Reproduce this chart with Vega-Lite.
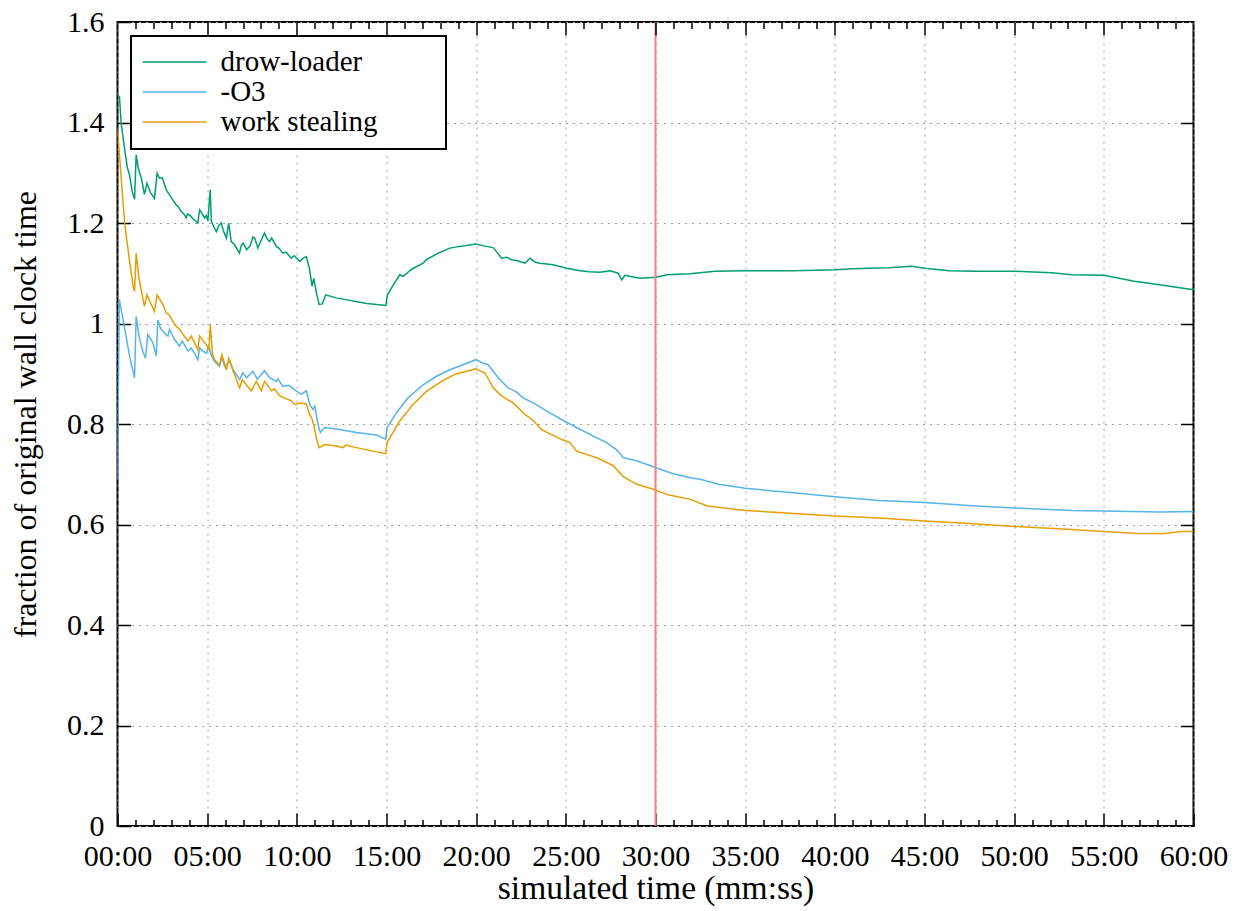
{
  "$schema": "https://vega.github.io/schema/vega-lite/v6.json",
  "autosize": {"type": "none"},
  "width": 1076,
  "height": 804,
  "padding": {"left": 117.5, "top": 22, "right": 50, "bottom": 85},
  "background": "white",
  "config": {
    "font": "Liberation Serif",
    "view": {"stroke": "black", "strokeWidth": 2},
    "style": {
      "guide-label": {"font": "Liberation Serif"},
      "guide-title": {"font": "Liberation Serif"}
    },
    "axis": {
      "labelFont": "Liberation Serif",
      "titleFont": "Liberation Serif",
      "labelColor": "black",
      "titleColor": "black",
      "tickColor": "black",
      "tickWidth": 1.5,
      "titleFontWeight": "normal",
      "labelOverlap": false,
      "labelFlush": false
    },
    "legend": {"labelFont": "Liberation Serif", "titleFont": "Liberation Serif"}
  },
  "datasets": {
    "series": [
      {"t": 0, "s": "drow-loader", "v": 1.455},
      {"t": 0.11, "s": "drow-loader", "v": 1.451},
      {"t": 0.2, "s": "drow-loader", "v": 1.4},
      {"t": 0.39, "s": "drow-loader", "v": 1.349},
      {"t": 0.55, "s": "drow-loader", "v": 1.31},
      {"t": 0.67, "s": "drow-loader", "v": 1.296},
      {"t": 0.82, "s": "drow-loader", "v": 1.263},
      {"t": 0.95, "s": "drow-loader", "v": 1.247},
      {"t": 1.04, "s": "drow-loader", "v": 1.336},
      {"t": 1.15, "s": "drow-loader", "v": 1.31},
      {"t": 1.34, "s": "drow-loader", "v": 1.288},
      {"t": 1.5, "s": "drow-loader", "v": 1.257},
      {"t": 1.64, "s": "drow-loader", "v": 1.279},
      {"t": 1.85, "s": "drow-loader", "v": 1.26},
      {"t": 2.06, "s": "drow-loader", "v": 1.249},
      {"t": 2.21, "s": "drow-loader", "v": 1.299},
      {"t": 2.34, "s": "drow-loader", "v": 1.289},
      {"t": 2.5, "s": "drow-loader", "v": 1.29},
      {"t": 2.72, "s": "drow-loader", "v": 1.266},
      {"t": 2.9, "s": "drow-loader", "v": 1.256},
      {"t": 3.1, "s": "drow-loader", "v": 1.245},
      {"t": 3.27, "s": "drow-loader", "v": 1.236},
      {"t": 3.4, "s": "drow-loader", "v": 1.232},
      {"t": 3.55, "s": "drow-loader", "v": 1.223},
      {"t": 3.7, "s": "drow-loader", "v": 1.218},
      {"t": 3.83, "s": "drow-loader", "v": 1.21},
      {"t": 3.9, "s": "drow-loader", "v": 1.218},
      {"t": 4.02, "s": "drow-loader", "v": 1.216},
      {"t": 4.25, "s": "drow-loader", "v": 1.207},
      {"t": 4.48, "s": "drow-loader", "v": 1.2},
      {"t": 4.58, "s": "drow-loader", "v": 1.226},
      {"t": 4.7, "s": "drow-loader", "v": 1.22},
      {"t": 4.86, "s": "drow-loader", "v": 1.21},
      {"t": 4.95, "s": "drow-loader", "v": 1.215},
      {"t": 5.04, "s": "drow-loader", "v": 1.204},
      {"t": 5.17, "s": "drow-loader", "v": 1.266},
      {"t": 5.23, "s": "drow-loader", "v": 1.204},
      {"t": 5.4, "s": "drow-loader", "v": 1.19},
      {"t": 5.51, "s": "drow-loader", "v": 1.183},
      {"t": 5.65, "s": "drow-loader", "v": 1.195},
      {"t": 5.79, "s": "drow-loader", "v": 1.2},
      {"t": 5.9, "s": "drow-loader", "v": 1.185},
      {"t": 6.07, "s": "drow-loader", "v": 1.17},
      {"t": 6.2, "s": "drow-loader", "v": 1.2},
      {"t": 6.34, "s": "drow-loader", "v": 1.163},
      {"t": 6.5, "s": "drow-loader", "v": 1.158},
      {"t": 6.8, "s": "drow-loader", "v": 1.14},
      {"t": 6.9, "s": "drow-loader", "v": 1.155},
      {"t": 7.0, "s": "drow-loader", "v": 1.16},
      {"t": 7.2, "s": "drow-loader", "v": 1.147},
      {"t": 7.4, "s": "drow-loader", "v": 1.155},
      {"t": 7.55, "s": "drow-loader", "v": 1.172},
      {"t": 7.65, "s": "drow-loader", "v": 1.17},
      {"t": 7.83, "s": "drow-loader", "v": 1.15},
      {"t": 8.0, "s": "drow-loader", "v": 1.165},
      {"t": 8.2, "s": "drow-loader", "v": 1.18},
      {"t": 8.35, "s": "drow-loader", "v": 1.168},
      {"t": 8.48, "s": "drow-loader", "v": 1.163},
      {"t": 8.6, "s": "drow-loader", "v": 1.17},
      {"t": 8.86, "s": "drow-loader", "v": 1.153},
      {"t": 9.0, "s": "drow-loader", "v": 1.15},
      {"t": 9.22, "s": "drow-loader", "v": 1.14},
      {"t": 9.4, "s": "drow-loader", "v": 1.142},
      {"t": 9.69, "s": "drow-loader", "v": 1.13},
      {"t": 9.85, "s": "drow-loader", "v": 1.135},
      {"t": 10.16, "s": "drow-loader", "v": 1.124},
      {"t": 10.35, "s": "drow-loader", "v": 1.13},
      {"t": 10.53, "s": "drow-loader", "v": 1.133},
      {"t": 10.7, "s": "drow-loader", "v": 1.11},
      {"t": 10.85, "s": "drow-loader", "v": 1.074},
      {"t": 10.94, "s": "drow-loader", "v": 1.09},
      {"t": 11.1, "s": "drow-loader", "v": 1.06},
      {"t": 11.24, "s": "drow-loader", "v": 1.038},
      {"t": 11.42, "s": "drow-loader", "v": 1.039},
      {"t": 11.61, "s": "drow-loader", "v": 1.057},
      {"t": 11.8, "s": "drow-loader", "v": 1.055},
      {"t": 12.2, "s": "drow-loader", "v": 1.051},
      {"t": 12.8, "s": "drow-loader", "v": 1.047},
      {"t": 13.3, "s": "drow-loader", "v": 1.044},
      {"t": 13.9, "s": "drow-loader", "v": 1.04},
      {"t": 14.44, "s": "drow-loader", "v": 1.038},
      {"t": 14.96, "s": "drow-loader", "v": 1.036},
      {"t": 15.05, "s": "drow-loader", "v": 1.057},
      {"t": 15.4, "s": "drow-loader", "v": 1.078},
      {"t": 15.74, "s": "drow-loader", "v": 1.097},
      {"t": 15.93, "s": "drow-loader", "v": 1.094},
      {"t": 16.4, "s": "drow-loader", "v": 1.108},
      {"t": 17.04, "s": "drow-loader", "v": 1.12},
      {"t": 17.23, "s": "drow-loader", "v": 1.127},
      {"t": 17.88, "s": "drow-loader", "v": 1.14},
      {"t": 18.53, "s": "drow-loader", "v": 1.15},
      {"t": 19.0, "s": "drow-loader", "v": 1.153},
      {"t": 19.46, "s": "drow-loader", "v": 1.155},
      {"t": 19.98, "s": "drow-loader", "v": 1.158},
      {"t": 20.5, "s": "drow-loader", "v": 1.154},
      {"t": 20.95, "s": "drow-loader", "v": 1.151},
      {"t": 21.2, "s": "drow-loader", "v": 1.14},
      {"t": 21.41, "s": "drow-loader", "v": 1.13},
      {"t": 21.7, "s": "drow-loader", "v": 1.132},
      {"t": 21.97, "s": "drow-loader", "v": 1.127},
      {"t": 22.3, "s": "drow-loader", "v": 1.125},
      {"t": 22.72, "s": "drow-loader", "v": 1.12},
      {"t": 23.0, "s": "drow-loader", "v": 1.13},
      {"t": 23.3, "s": "drow-loader", "v": 1.122},
      {"t": 23.55, "s": "drow-loader", "v": 1.12},
      {"t": 24.3, "s": "drow-loader", "v": 1.117},
      {"t": 25.04, "s": "drow-loader", "v": 1.11},
      {"t": 25.79, "s": "drow-loader", "v": 1.105},
      {"t": 26.3, "s": "drow-loader", "v": 1.103},
      {"t": 26.9, "s": "drow-loader", "v": 1.102},
      {"t": 27.46, "s": "drow-loader", "v": 1.105},
      {"t": 27.92, "s": "drow-loader", "v": 1.1},
      {"t": 28.11, "s": "drow-loader", "v": 1.087},
      {"t": 28.3, "s": "drow-loader", "v": 1.096},
      {"t": 28.7, "s": "drow-loader", "v": 1.093},
      {"t": 29.13, "s": "drow-loader", "v": 1.09},
      {"t": 30.03, "s": "drow-loader", "v": 1.092},
      {"t": 30.62, "s": "drow-loader", "v": 1.097},
      {"t": 31.2, "s": "drow-loader", "v": 1.098},
      {"t": 31.93, "s": "drow-loader", "v": 1.099},
      {"t": 33.3, "s": "drow-loader", "v": 1.104},
      {"t": 35, "s": "drow-loader", "v": 1.105},
      {"t": 37.7, "s": "drow-loader", "v": 1.105},
      {"t": 40, "s": "drow-loader", "v": 1.107},
      {"t": 41, "s": "drow-loader", "v": 1.109},
      {"t": 41.9, "s": "drow-loader", "v": 1.11},
      {"t": 43, "s": "drow-loader", "v": 1.111},
      {"t": 44.3, "s": "drow-loader", "v": 1.114},
      {"t": 45, "s": "drow-loader", "v": 1.11},
      {"t": 46.4, "s": "drow-loader", "v": 1.105},
      {"t": 47.9, "s": "drow-loader", "v": 1.104},
      {"t": 50, "s": "drow-loader", "v": 1.104},
      {"t": 52.1, "s": "drow-loader", "v": 1.101},
      {"t": 53.2, "s": "drow-loader", "v": 1.097},
      {"t": 55, "s": "drow-loader", "v": 1.096},
      {"t": 56.7, "s": "drow-loader", "v": 1.084},
      {"t": 58.1, "s": "drow-loader", "v": 1.077},
      {"t": 60, "s": "drow-loader", "v": 1.067},

      {"t": 0, "s": "-O3", "v": 0.69},
      {"t": 0.1, "s": "-O3", "v": 1.048},
      {"t": 0.35, "s": "-O3", "v": 1.0},
      {"t": 0.7, "s": "-O3", "v": 0.93},
      {"t": 0.95, "s": "-O3", "v": 0.892},
      {"t": 1.04, "s": "-O3", "v": 1.014},
      {"t": 1.2, "s": "-O3", "v": 0.975},
      {"t": 1.4, "s": "-O3", "v": 0.945},
      {"t": 1.56, "s": "-O3", "v": 0.931},
      {"t": 1.69, "s": "-O3", "v": 0.978},
      {"t": 1.97, "s": "-O3", "v": 0.962},
      {"t": 2.16, "s": "-O3", "v": 0.935},
      {"t": 2.25, "s": "-O3", "v": 1.007},
      {"t": 2.4, "s": "-O3", "v": 0.99},
      {"t": 2.53, "s": "-O3", "v": 0.985},
      {"t": 2.7, "s": "-O3", "v": 0.978},
      {"t": 2.81, "s": "-O3", "v": 0.975},
      {"t": 2.9, "s": "-O3", "v": 0.988},
      {"t": 3.18, "s": "-O3", "v": 0.968},
      {"t": 3.46, "s": "-O3", "v": 0.955},
      {"t": 3.61, "s": "-O3", "v": 0.965},
      {"t": 3.93, "s": "-O3", "v": 0.945},
      {"t": 4.11, "s": "-O3", "v": 0.951},
      {"t": 4.3, "s": "-O3", "v": 0.94},
      {"t": 4.48, "s": "-O3", "v": 0.928},
      {"t": 4.58, "s": "-O3", "v": 0.951},
      {"t": 4.75, "s": "-O3", "v": 0.945},
      {"t": 4.95, "s": "-O3", "v": 0.941},
      {"t": 5.1, "s": "-O3", "v": 0.955},
      {"t": 5.25, "s": "-O3", "v": 0.935},
      {"t": 5.41, "s": "-O3", "v": 0.925},
      {"t": 5.69, "s": "-O3", "v": 0.915},
      {"t": 5.82, "s": "-O3", "v": 0.933},
      {"t": 5.97, "s": "-O3", "v": 0.915},
      {"t": 6.25, "s": "-O3", "v": 0.925},
      {"t": 6.45, "s": "-O3", "v": 0.908},
      {"t": 6.81, "s": "-O3", "v": 0.888},
      {"t": 6.99, "s": "-O3", "v": 0.902},
      {"t": 7.2, "s": "-O3", "v": 0.892},
      {"t": 7.55, "s": "-O3", "v": 0.905},
      {"t": 7.8, "s": "-O3", "v": 0.889},
      {"t": 8.2, "s": "-O3", "v": 0.906},
      {"t": 8.48, "s": "-O3", "v": 0.892},
      {"t": 8.86, "s": "-O3", "v": 0.885},
      {"t": 8.95, "s": "-O3", "v": 0.89},
      {"t": 9.22, "s": "-O3", "v": 0.875},
      {"t": 9.55, "s": "-O3", "v": 0.877},
      {"t": 9.97, "s": "-O3", "v": 0.866},
      {"t": 10.25, "s": "-O3", "v": 0.859},
      {"t": 10.53, "s": "-O3", "v": 0.866},
      {"t": 10.72, "s": "-O3", "v": 0.839},
      {"t": 10.9, "s": "-O3", "v": 0.829},
      {"t": 11.0, "s": "-O3", "v": 0.835},
      {"t": 11.18, "s": "-O3", "v": 0.799},
      {"t": 11.31, "s": "-O3", "v": 0.783},
      {"t": 11.55, "s": "-O3", "v": 0.793},
      {"t": 12.2, "s": "-O3", "v": 0.79},
      {"t": 13.32, "s": "-O3", "v": 0.783},
      {"t": 14.44, "s": "-O3", "v": 0.778},
      {"t": 14.96, "s": "-O3", "v": 0.77},
      {"t": 15.03, "s": "-O3", "v": 0.793},
      {"t": 15.55, "s": "-O3", "v": 0.822},
      {"t": 16.2, "s": "-O3", "v": 0.852},
      {"t": 17.04, "s": "-O3", "v": 0.878},
      {"t": 17.79, "s": "-O3", "v": 0.895},
      {"t": 18.53, "s": "-O3", "v": 0.908},
      {"t": 19.27, "s": "-O3", "v": 0.918},
      {"t": 19.98, "s": "-O3", "v": 0.928},
      {"t": 20.39, "s": "-O3", "v": 0.921},
      {"t": 20.67, "s": "-O3", "v": 0.918},
      {"t": 21.23, "s": "-O3", "v": 0.892},
      {"t": 21.78, "s": "-O3", "v": 0.872},
      {"t": 22.2, "s": "-O3", "v": 0.865},
      {"t": 22.62, "s": "-O3", "v": 0.852},
      {"t": 23.18, "s": "-O3", "v": 0.842},
      {"t": 23.92, "s": "-O3", "v": 0.826},
      {"t": 24.85, "s": "-O3", "v": 0.807},
      {"t": 25.6, "s": "-O3", "v": 0.793},
      {"t": 26.53, "s": "-O3", "v": 0.776},
      {"t": 27.27, "s": "-O3", "v": 0.763},
      {"t": 27.92, "s": "-O3", "v": 0.746},
      {"t": 28.2, "s": "-O3", "v": 0.733},
      {"t": 28.95, "s": "-O3", "v": 0.727},
      {"t": 30.03, "s": "-O3", "v": 0.713},
      {"t": 30.9, "s": "-O3", "v": 0.702},
      {"t": 31.93, "s": "-O3", "v": 0.693},
      {"t": 32.5, "s": "-O3", "v": 0.69},
      {"t": 33.5, "s": "-O3", "v": 0.68},
      {"t": 35, "s": "-O3", "v": 0.672},
      {"t": 37.7, "s": "-O3", "v": 0.663},
      {"t": 40, "s": "-O3", "v": 0.655},
      {"t": 42.5, "s": "-O3", "v": 0.648},
      {"t": 45, "s": "-O3", "v": 0.644},
      {"t": 47.9, "s": "-O3", "v": 0.637},
      {"t": 50, "s": "-O3", "v": 0.633},
      {"t": 53.2, "s": "-O3", "v": 0.628},
      {"t": 55, "s": "-O3", "v": 0.627},
      {"t": 58.1, "s": "-O3", "v": 0.625},
      {"t": 60, "s": "-O3", "v": 0.626},

      {"t": 0, "s": "work stealing", "v": 1.385},
      {"t": 0.11, "s": "work stealing", "v": 1.335},
      {"t": 0.39, "s": "work stealing", "v": 1.203},
      {"t": 0.67, "s": "work stealing", "v": 1.124},
      {"t": 0.89, "s": "work stealing", "v": 1.07},
      {"t": 0.95, "s": "work stealing", "v": 1.064},
      {"t": 1.04, "s": "work stealing", "v": 1.14},
      {"t": 1.2, "s": "work stealing", "v": 1.09},
      {"t": 1.5, "s": "work stealing", "v": 1.034},
      {"t": 1.64, "s": "work stealing", "v": 1.057},
      {"t": 2.06, "s": "work stealing", "v": 1.024},
      {"t": 2.21, "s": "work stealing", "v": 1.057},
      {"t": 2.53, "s": "work stealing", "v": 1.038},
      {"t": 2.72, "s": "work stealing", "v": 1.021},
      {"t": 2.9, "s": "work stealing", "v": 1.017},
      {"t": 3.18, "s": "work stealing", "v": 0.998},
      {"t": 3.46, "s": "work stealing", "v": 0.988},
      {"t": 3.93, "s": "work stealing", "v": 0.965},
      {"t": 4.11, "s": "work stealing", "v": 0.975},
      {"t": 4.48, "s": "work stealing", "v": 0.948},
      {"t": 4.58, "s": "work stealing", "v": 0.975},
      {"t": 4.95, "s": "work stealing", "v": 0.958},
      {"t": 5.1, "s": "work stealing", "v": 0.948},
      {"t": 5.17, "s": "work stealing", "v": 0.998},
      {"t": 5.3, "s": "work stealing", "v": 0.94},
      {"t": 5.41, "s": "work stealing", "v": 0.928},
      {"t": 5.69, "s": "work stealing", "v": 0.918},
      {"t": 5.82, "s": "work stealing", "v": 0.938},
      {"t": 6.07, "s": "work stealing", "v": 0.908},
      {"t": 6.21, "s": "work stealing", "v": 0.931},
      {"t": 6.45, "s": "work stealing", "v": 0.905},
      {"t": 6.81, "s": "work stealing", "v": 0.872},
      {"t": 6.96, "s": "work stealing", "v": 0.888},
      {"t": 7.46, "s": "work stealing", "v": 0.866},
      {"t": 7.74, "s": "work stealing", "v": 0.885},
      {"t": 8.02, "s": "work stealing", "v": 0.866},
      {"t": 8.2, "s": "work stealing", "v": 0.885},
      {"t": 8.58, "s": "work stealing", "v": 0.866},
      {"t": 8.75, "s": "work stealing", "v": 0.87},
      {"t": 9.04, "s": "work stealing", "v": 0.856},
      {"t": 9.69, "s": "work stealing", "v": 0.846},
      {"t": 9.88, "s": "work stealing", "v": 0.839},
      {"t": 10.25, "s": "work stealing", "v": 0.842},
      {"t": 10.53, "s": "work stealing", "v": 0.84},
      {"t": 10.68, "s": "work stealing", "v": 0.822},
      {"t": 10.86, "s": "work stealing", "v": 0.809},
      {"t": 10.94, "s": "work stealing", "v": 0.799},
      {"t": 11.1, "s": "work stealing", "v": 0.77},
      {"t": 11.24, "s": "work stealing", "v": 0.753},
      {"t": 11.55, "s": "work stealing", "v": 0.759},
      {"t": 12.2, "s": "work stealing", "v": 0.756},
      {"t": 12.58, "s": "work stealing", "v": 0.753},
      {"t": 12.73, "s": "work stealing", "v": 0.758},
      {"t": 13.32, "s": "work stealing", "v": 0.753},
      {"t": 14.25, "s": "work stealing", "v": 0.746},
      {"t": 14.96, "s": "work stealing", "v": 0.741},
      {"t": 15.03, "s": "work stealing", "v": 0.763},
      {"t": 15.74, "s": "work stealing", "v": 0.806},
      {"t": 16.48, "s": "work stealing", "v": 0.839},
      {"t": 17.23, "s": "work stealing", "v": 0.865},
      {"t": 18.07, "s": "work stealing", "v": 0.885},
      {"t": 18.81, "s": "work stealing", "v": 0.899},
      {"t": 19.46, "s": "work stealing", "v": 0.905},
      {"t": 19.98, "s": "work stealing", "v": 0.91},
      {"t": 20.48, "s": "work stealing", "v": 0.902},
      {"t": 20.95, "s": "work stealing", "v": 0.872},
      {"t": 21.41, "s": "work stealing", "v": 0.856},
      {"t": 22.06, "s": "work stealing", "v": 0.842},
      {"t": 22.72, "s": "work stealing", "v": 0.819},
      {"t": 23.18, "s": "work stealing", "v": 0.807},
      {"t": 23.65, "s": "work stealing", "v": 0.789},
      {"t": 24.2, "s": "work stealing", "v": 0.779},
      {"t": 24.77, "s": "work stealing", "v": 0.769},
      {"t": 25.23, "s": "work stealing", "v": 0.763},
      {"t": 25.6, "s": "work stealing", "v": 0.746},
      {"t": 26.72, "s": "work stealing", "v": 0.733},
      {"t": 27.65, "s": "work stealing", "v": 0.717},
      {"t": 28.2, "s": "work stealing", "v": 0.695},
      {"t": 28.95, "s": "work stealing", "v": 0.68},
      {"t": 29.88, "s": "work stealing", "v": 0.67},
      {"t": 30.7, "s": "work stealing", "v": 0.659},
      {"t": 31.93, "s": "work stealing", "v": 0.65},
      {"t": 32.9, "s": "work stealing", "v": 0.637},
      {"t": 35, "s": "work stealing", "v": 0.628},
      {"t": 37.7, "s": "work stealing", "v": 0.622},
      {"t": 40, "s": "work stealing", "v": 0.617},
      {"t": 42.5, "s": "work stealing", "v": 0.613},
      {"t": 45, "s": "work stealing", "v": 0.607},
      {"t": 47.5, "s": "work stealing", "v": 0.602},
      {"t": 50, "s": "work stealing", "v": 0.596},
      {"t": 52.7, "s": "work stealing", "v": 0.591},
      {"t": 55, "s": "work stealing", "v": 0.586},
      {"t": 56.9, "s": "work stealing", "v": 0.582},
      {"t": 58.4, "s": "work stealing", "v": 0.582},
      {"t": 59.3, "s": "work stealing", "v": 0.586},
      {"t": 60, "s": "work stealing", "v": 0.586}
    ],
    "marker": [{"t": 30, "v": 0.8}]
  },
  "resolve": {"axis": {"x": "independent", "y": "independent"}},
  "layer": [
    {
      "data": {"name": "series"},
      "mark": {"type": "line", "strokeWidth": 1.5, "clip": true},
      "encoding": {
        "x": {
          "field": "t", "type": "quantitative",
          "scale": {"domain": [0, 60], "nice": false, "zero": false},
          "axis": {
            "orient": "bottom",
            "values": [0, 5, 10, 15, 20, 25, 30, 35, 40, 45, 50, 55, 60],
            "labelExpr": "(datum.value < 10 ? '0' : '') + datum.value + ':00'",
            "labelFont": "Liberation Serif",
            "labelFontSize": 30,
            "labelPadding": 15,
            "offset": -13,
            "tickSize": 13,
            "domain": false,
            "grid": true,
            "gridDash": [2, 5],
            "gridColor": "#a0a0a0",
            "gridWidth": 1,
            "title": "simulated time (mm:ss)",
            "titleFont": "Liberation Serif",
            "titleFontSize": 33.5,
            "titleX": 538,
            "titleY": 85,
            "titleBaseline": "alphabetic",
            "titleAlign": "center"
          }
        },
        "y": {
          "field": "v", "type": "quantitative",
          "scale": {"domain": [0, 1.6], "nice": false, "zero": false},
          "axis": {
            "orient": "left",
            "values": [0, 0.2, 0.4, 0.6, 0.8, 1, 1.2, 1.4, 1.6],
            "labelExpr": "format(datum.value, '.1~f')",
            "labelFont": "Liberation Serif",
            "labelFontSize": 30,
            "labelPadding": 13.5,
            "offset": -13,
            "tickSize": 13,
            "domain": false,
            "grid": true,
            "gridDash": [2, 5],
            "gridColor": "#a0a0a0",
            "gridWidth": 1,
            "title": "fraction of original wall clock time",
            "titleFont": "Liberation Serif",
            "titleFontSize": 32,
            "titleAngle": -90,
            "titleX": -95.5,
            "titleY": 392,
            "titleBaseline": "alphabetic",
            "titleAlign": "center"
          }
        },
        "color": {
          "field": "s", "type": "nominal",
          "scale": {
            "domain": ["drow-loader", "-O3", "work stealing"],
            "range": ["#009e73", "#56b4e9", "#e69f00"]
          },
          "legend": {
            "title": null,
            "orient": "none",
            "direction": "vertical",
            "legendX": 13.5,
            "legendY": 14,
            "padding": 11.5,
            "fillColor": "white",
            "strokeColor": "black",
            "symbolType": "M-4,0H4",
            "symbolSize": 256,
            "symbolStrokeWidth": 1.5,
            "symbolOffset": 17.5,
            "labelOffset": 31.5,
            "labelFont": "Liberation Serif",
            "labelFontSize": 29,
            "labelColor": "black",
            "labelLimit": 400,
            "rowPadding": 0,
            "labelExpr": "datum.label + '\u00a0\u00a0\u2800\u2800'",
            "encode": {"legend": {"update": {"strokeWidth": {"value": 2}}}}
          }
        }
      }
    },
    {
      "data": {"name": "marker"},
      "mark": {"type": "rule", "color": "#ff8080", "strokeWidth": 2},
      "encoding": {
        "x": {
          "field": "t", "type": "quantitative",
          "scale": {"domain": [0, 60], "nice": false, "zero": false},
          "axis": {
            "orient": "top",
            "values": [5, 10, 15, 20, 25, 30, 35, 40, 45, 50, 55],
            "labels": false, "domain": false, "grid": false,
            "tickSize": 13, "offset": -13, "title": null, "zindex": 1
          }
        }
      }
    },
    {
      "data": {"name": "marker"},
      "mark": {"type": "point", "opacity": 0},
      "encoding": {
        "x": {
          "field": "t", "type": "quantitative",
          "scale": {"domain": [0, 60], "nice": false, "zero": false},
          "axis": {
            "orient": "bottom",
            "values": [1, 2, 3, 4, 6, 7, 8, 9, 11, 12, 13, 14, 16, 17, 18, 19, 21, 22, 23, 24, 26, 27, 28, 29, 31, 32, 33, 34, 36, 37, 38, 39, 41, 42, 43, 44, 46, 47, 48, 49, 51, 52, 53, 54, 56, 57, 58, 59],
            "labels": false, "domain": false, "grid": false,
            "tickSize": 6.5, "offset": -6.5, "title": null, "zindex": 1
          }
        },
        "y": {
          "field": "v", "type": "quantitative",
          "scale": {"domain": [0, 1.6], "nice": false, "zero": false},
          "axis": {
            "orient": "right",
            "values": [0.2, 0.4, 0.6, 0.8, 1, 1.2, 1.4],
            "labels": false, "domain": false, "grid": false,
            "tickSize": 13, "offset": -13, "title": null, "zindex": 1
          }
        }
      }
    },
    {
      "data": {"name": "marker"},
      "mark": {"type": "point", "opacity": 0},
      "encoding": {
        "x": {
          "field": "t", "type": "quantitative",
          "scale": {"domain": [0, 60], "nice": false, "zero": false},
          "axis": {
            "orient": "top",
            "values": [1, 2, 3, 4, 6, 7, 8, 9, 11, 12, 13, 14, 16, 17, 18, 19, 21, 22, 23, 24, 26, 27, 28, 29, 31, 32, 33, 34, 36, 37, 38, 39, 41, 42, 43, 44, 46, 47, 48, 49, 51, 52, 53, 54, 56, 57, 58, 59],
            "labels": false, "domain": false, "grid": false,
            "tickSize": 6.5, "offset": -6.5, "title": null, "zindex": 1
          }
        },
        "y": {
          "field": "v", "type": "quantitative",
          "scale": {"domain": [0, 1.6], "nice": false, "zero": false},
          "axis": null
        }
      }
    }
  ]
}
